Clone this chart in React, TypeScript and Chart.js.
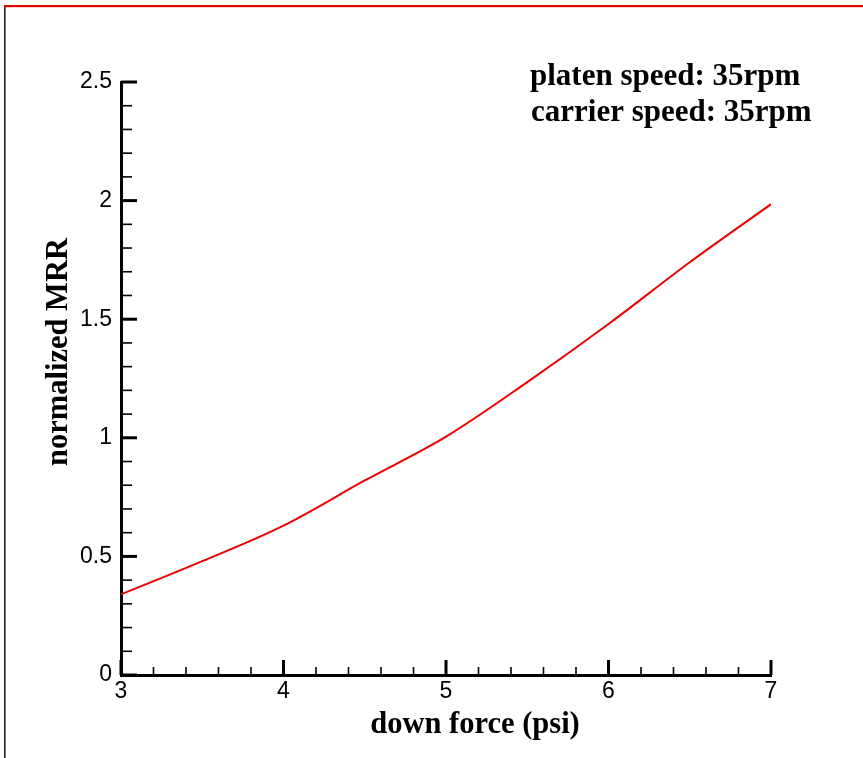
import React, { useEffect, useRef } from "react";
import { Chart, registerables } from "chart.js";

Chart.register(...registerables);

// ---- data ----
const downForce = [3, 3.5, 4, 4.5, 5, 5.5, 6, 6.5, 7];
const normalizedMRR = [0.34, 0.48, 0.63, 0.82, 1.005, 1.235, 1.48, 1.74, 1.985];
const xTickLabels = ["3", "4", "5", "6", "7"];
const yTickLabels = ["0", "0.5", "1", "1.5", "2", "2.5"];
const xTitle = "down force (psi)";
const yTitle = "normalized MRR";
const noteLines = ["platen speed: 35rpm", "carrier speed: 35rpm"];

const W = 863;
const H = 758;
const SERIF = '"Liberation Serif", "Times New Roman", serif';
const SANS = '"Liberation Sans", Arial, sans-serif';

const decorPlugin = {
  id: "decor",
  beforeDraw(chart: any) {
    const ctx = chart.ctx;
    ctx.save();
    ctx.fillStyle = "#ffffff";
    ctx.fillRect(0, 0, W, H);
    // frame lines
    ctx.fillStyle = "#222222";
    ctx.fillRect(4, 6, 1.6, H - 6);
    ctx.fillStyle = "#e00000";
    ctx.fillRect(4, 5, W - 4, 2.2);
    ctx.restore();
  },
  afterDraw(chart: any) {
    const ctx = chart.ctx;
    const xs = chart.scales.x;
    const ys = chart.scales.y;
    const area = chart.chartArea;
    ctx.save();
    ctx.strokeStyle = "#000";
    ctx.lineCap = "butt";
    // x ticks (inward, upward)
    const xMin = xs.min, xMax = xs.max;
    const xMinorStep = 0.2;
    const nx = Math.round((xMax - xMin) / xMinorStep);
    for (let i = 0; i <= nx; i++) {
      const v = xMin + i * xMinorStep;
      const major = i % 5 === 0;
      const px = xs.getPixelForValue(v);
      ctx.lineWidth = major ? 3 : 1.6;
      ctx.beginPath();
      ctx.moveTo(px, area.bottom);
      ctx.lineTo(px, area.bottom - (major ? 15 : 8));
      ctx.stroke();
    }
    // y ticks (inward, to the right)
    const yMin = ys.min, yMax = ys.max;
    const yMinorStep = 0.1;
    const ny = Math.round((yMax - yMin) / yMinorStep);
    for (let i = 0; i <= ny; i++) {
      const v = yMin + i * yMinorStep;
      const major = i % 5 === 0;
      const py = ys.getPixelForValue(v);
      ctx.lineWidth = major ? 3 : 1.6;
      ctx.beginPath();
      ctx.moveTo(area.left, py);
      ctx.lineTo(area.left + (major ? 16 : 11), py);
      ctx.stroke();
    }
    // titles
    ctx.fillStyle = "#000";
    ctx.font = `bold 30.5px ${SERIF}`;
    ctx.textBaseline = "alphabetic";
    ctx.textAlign = "center";
    ctx.fillText(xTitle, 475, 733);
    ctx.save();
    ctx.translate(67, 352);
    ctx.rotate(-Math.PI / 2);
    ctx.fillText(yTitle, 0, 0);
    ctx.restore();
    // annotation
    ctx.textAlign = "left";
    ctx.font = `bold 31px ${SERIF}`;
    ctx.fillText(noteLines[0], 530, 85);
    ctx.fillText(noteLines[1], 531, 121);
    ctx.restore();
  },
};

export default function App() {
  const ref = useRef<HTMLCanvasElement | null>(null);
  useEffect(() => {
    if (!ref.current) return;
    const chart = new Chart(ref.current, {
      type: "line",
      data: {
        datasets: [
          {
            data: downForce.map((x, i) => ({ x, y: normalizedMRR[i] })),
            borderColor: "#ee0000",
            borderWidth: 2,
            pointRadius: 0,
            cubicInterpolationMode: "monotone",
            fill: false,
          },
        ],
      },
      options: {
        animation: false,
        responsive: false,
        devicePixelRatio: 1,
        layout: { padding: { left: 10, right: 92, top: 82, bottom: 10 } },
        plugins: { legend: { display: false }, tooltip: { enabled: false } },
        scales: {
          x: {
            type: "linear",
            min: 3,
            max: 7,
            grid: { display: false, drawTicks: false },
            border: { display: true, width: 3, color: "#000" },
            afterFit: (s: any) => { s.height = 73; },
            ticks: {
              stepSize: 1,
              padding: 3,
              color: "#000",
              font: { family: SANS, size: 23 },
              callback: (v: any) => {
                const idx = xTickLabels.indexOf(String(v));
                return idx >= 0 ? xTickLabels[idx] : "";
              },
            },
          },
          y: {
            type: "linear",
            min: 0,
            max: 2.5,
            grid: { display: false, drawTicks: false },
            border: { display: true, width: 3, color: "#000" },
            afterFit: (s: any) => { s.width = 111; },
            ticks: {
              stepSize: 0.5,
              padding: 9,
              color: "#000",
              font: { family: SANS, size: 23 },
              callback: (v: any) => {
                const idx = yTickLabels.indexOf(String(v));
                return idx >= 0 ? yTickLabels[idx] : "";
              },
            },
          },
        },
      },
      plugins: [decorPlugin],
    } as any);
    return () => chart.destroy();
  }, []);
  return (
    <div style={{ position: "fixed", left: 0, top: 0, width: W, height: H, background: "#fff" }}>
      <canvas ref={ref} width={W} height={H} style={{ width: W, height: H, display: "block" }} />
    </div>
  );
}
